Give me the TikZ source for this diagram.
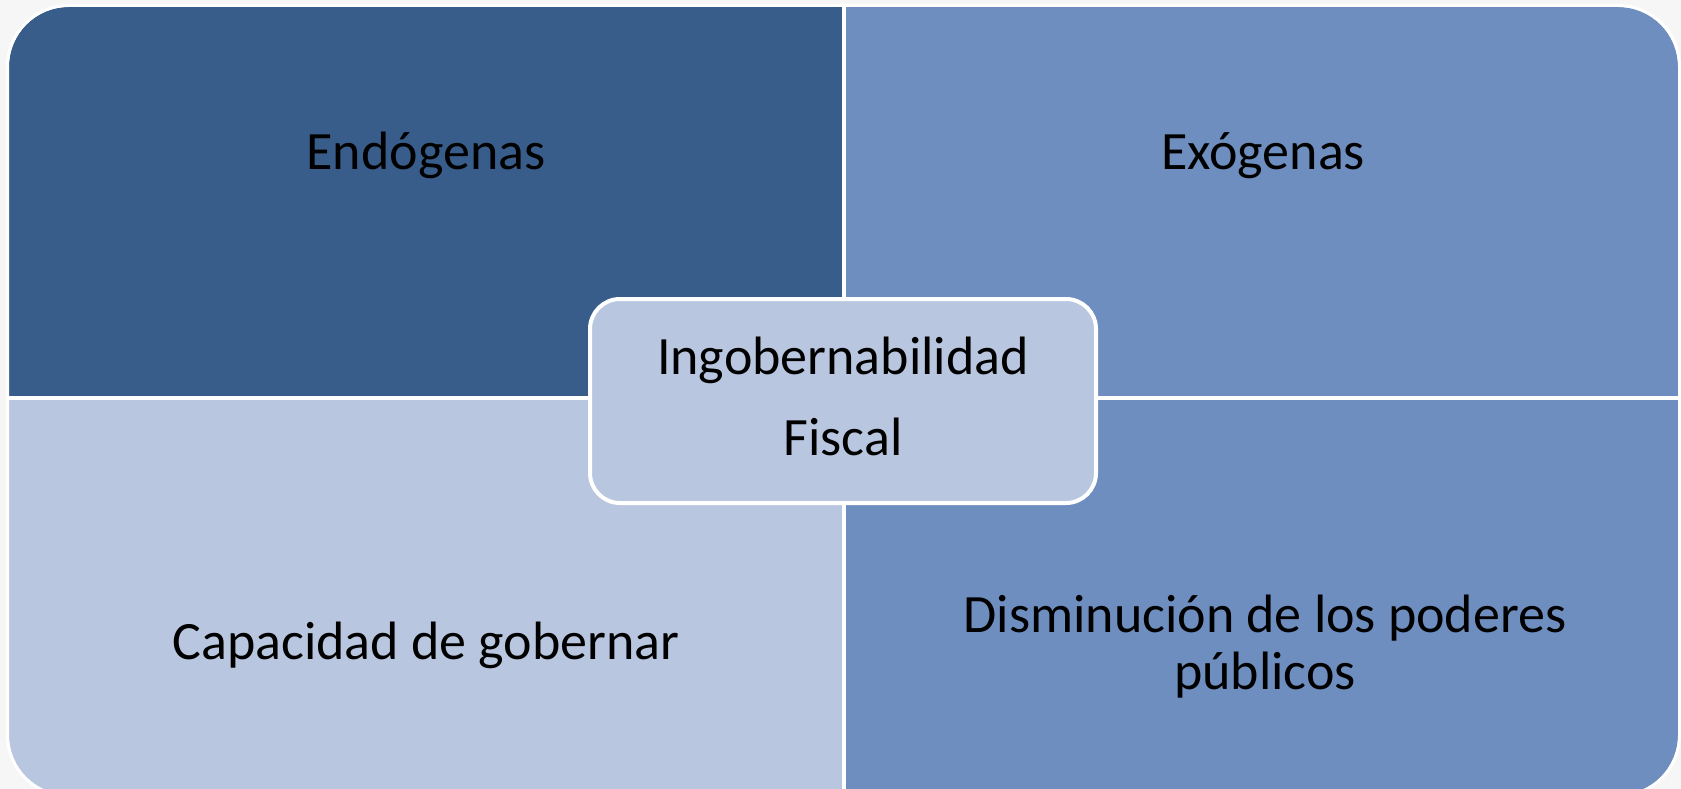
\documentclass[tikz,border=0pt]{standalone}
\usepackage{fontspec}
\setmainfont{Carlito}
\definecolor{darkblue}{RGB}{56,93,138}
\definecolor{midblue}{RGB}{110,142,192}
\definecolor{paleblue}{RGB}{185,198,223}
\definecolor{backgray}{RGB}{246,246,246}
\tikzset{
  lbl/.style={font=\fontsize{54}{57}\selectfont, anchor=base, align=center},
  divider/.style={white, line width=4pt}
}

\begin{document}
\begin{tikzpicture}[x=1pt,y=-1pt]
\fill[backgray] (0,0) rectangle (1681,789);
\useasboundingbox (0,0) rectangle (1681,789);

% quadrants
\begin{scope}
\clip[rounded corners=60] (9,7) rectangle (1678,795);
\fill[darkblue] (0,0) rectangle (844,398);
\fill[midblue] (844,0) rectangle (1681,398);
\fill[paleblue] (0,398) rectangle (844,800);
\fill[midblue] (844,398) rectangle (1681,800);
\draw[divider] (844,0) -- (844,800);
\draw[divider] (0,398) -- (1681,398);
\end{scope}
\draw[white, line width=3pt, rounded corners=61] (7.5,5.5) rectangle (1679.5,796);

\node[lbl] (endo) at (426,169) {Endógenas};
\node[lbl] (exo) at (1263,169) {Exógenas};
\node[lbl] (capac) at (426,659) {Capacidad de gobernar};
\node[lbl] (dismin) at (1265,689) {Disminución de los poderes\\públicos};

% centre box
\node[draw=white, line width=4pt, fill=paleblue, rounded corners=30,
      minimum width=506, minimum height=204] (fiscal) at (843,401) {};
\node[lbl, font=\fontsize{54}{81}\selectfont] (ingob) at (843,455) {Ingobernabilidad\\Fiscal};
\end{tikzpicture}
\end{document}
